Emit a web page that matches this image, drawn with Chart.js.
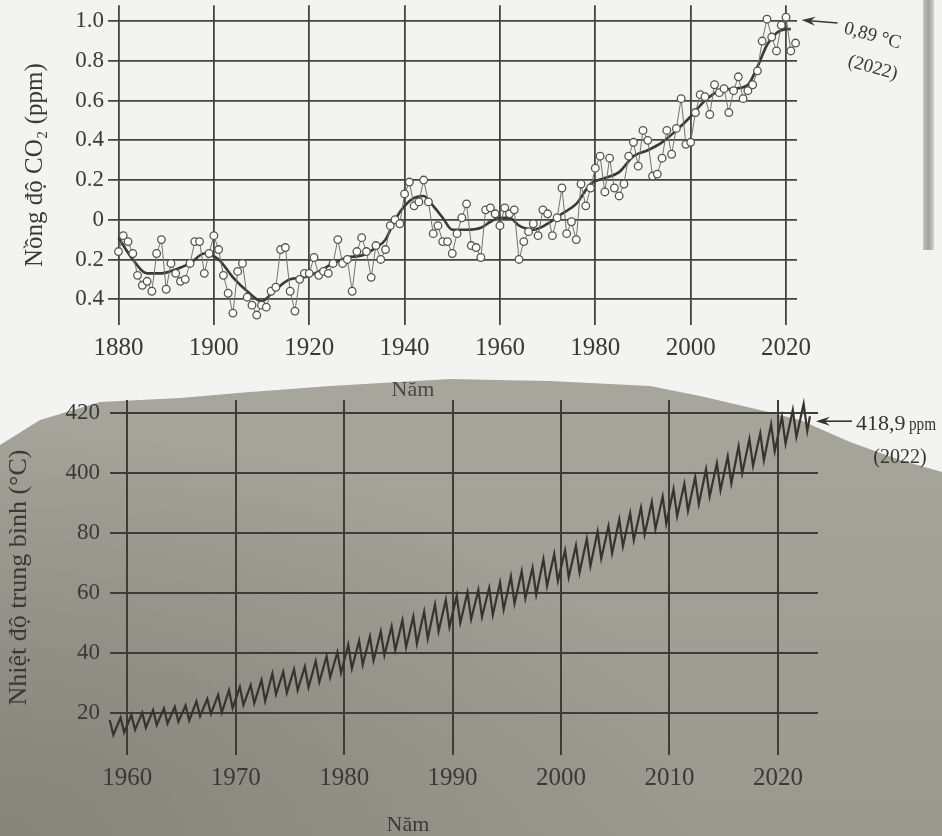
<!DOCTYPE html>
<html>
<head>
<meta charset="utf-8">
<script src="https://cdn.jsdelivr.net/npm/chart.js@4.4.0/dist/chart.umd.min.js"></script>
<style>
  html, body { margin:0; padding:0; width:942px; height:836px; overflow:hidden; background:#f3f3f1; }
  #shade { position:absolute; left:0; top:0; width:942px; height:836px;
    background: radial-gradient(ellipse 700px 420px at 0px 836px, #85847b 0%, rgba(133,132,123,0) 100%),
                linear-gradient(to bottom, #b3b2a9 0%, #a6a59c 50%, #9a998f 100%);
    clip-path: polygon(0px 445px, 40px 420px, 100px 402px, 180px 398px, 250px 392px, 330px 386px, 450px 379px, 550px 381px, 650px 386px, 700px 396px, 760px 410px, 800px 420px, 850px 442px, 900px 460px, 942px 472px, 942px 836px, 0px 836px); }
  #edge { position:absolute; left:923px; top:0; width:11px; height:250px; background:linear-gradient(to right,#c4c3bd,#a3a29b 50%,#d0cfca); }
  canvas { position:absolute; left:0; }
  #c1 { top:0; }
  #c2 { top:390px; }
</style>
</head>
<body>
<div id="shade"></div>
<div id="edge"></div>
<canvas id="c1" width="942" height="400" style="width:942px;height:400px"></canvas>
<canvas id="c2" width="942" height="446" style="width:942px;height:446px"></canvas>
<script>
// ---------- Top chart: annual temperature anomaly ----------
const tempYears = [
  1880,1881,1882,1883,1884,1885,1886,1887,1888,1889,
  1890,1891,1892,1893,1894,1895,1896,1897,1898,1899,
  1900,1901,1902,1903,1904,1905,1906,1907,1908,1909,
  1910,1911,1912,1913,1914,1915,1916,1917,1918,1919,
  1920,1921,1922,1923,1924,1925,1926,1927,1928,1929,
  1930,1931,1932,1933,1934,1935,1936,1937,1938,1939,
  1940,1941,1942,1943,1944,1945,1946,1947,1948,1949,
  1950,1951,1952,1953,1954,1955,1956,1957,1958,1959,
  1960,1961,1962,1963,1964,1965,1966,1967,1968,1969,
  1970,1971,1972,1973,1974,1975,1976,1977,1978,1979,
  1980,1981,1982,1983,1984,1985,1986,1987,1988,1989,
  1990,1991,1992,1993,1994,1995,1996,1997,1998,1999,
  2000,2001,2002,2003,2004,2005,2006,2007,2008,2009,
  2010,2011,2012,2013,2014,2015,2016,2017,2018,2019,
  2020,2021,2022
];
const tempValues = [
  -0.16,-0.08,-0.11,-0.17,-0.28,-0.33,-0.31,-0.36,-0.17,-0.10,
  -0.35,-0.22,-0.27,-0.31,-0.30,-0.22,-0.11,-0.11,-0.27,-0.17,
  -0.08,-0.15,-0.28,-0.37,-0.47,-0.26,-0.22,-0.39,-0.43,-0.48,
  -0.43,-0.44,-0.36,-0.34,-0.15,-0.14,-0.36,-0.46,-0.30,-0.27,
  -0.27,-0.19,-0.28,-0.26,-0.27,-0.22,-0.10,-0.22,-0.20,-0.36,
  -0.16,-0.09,-0.16,-0.29,-0.13,-0.20,-0.15,-0.03,0.00,-0.02,
  0.13,0.19,0.07,0.09,0.20,0.09,-0.07,-0.03,-0.11,-0.11,
  -0.17,-0.07,0.01,0.08,-0.13,-0.14,-0.19,0.05,0.06,0.03,
  -0.03,0.06,0.03,0.05,-0.20,-0.11,-0.06,-0.02,-0.08,0.05,
  0.03,-0.08,0.01,0.16,-0.07,-0.01,-0.10,0.18,0.07,0.16,
  0.26,0.32,0.14,0.31,0.16,0.12,0.18,0.32,0.39,0.27,
  0.45,0.40,0.22,0.23,0.31,0.45,0.33,0.46,0.61,0.38,
  0.39,0.54,0.63,0.62,0.53,0.68,0.64,0.66,0.54,0.65,
  0.72,0.61,0.65,0.68,0.75,0.90,1.01,0.92,0.85,0.98,
  1.02,0.85,0.89
];
// smoothed trend
const smoothYears = [1880,1883,1886,1889,1892,1895,1898,1901,1904,1907,1910,1913,1916,1919,1922,1925,1928,1931,1934,1936,1938,1940,1942,1944,1946,1948,1950,1953,1956,1958,1960,1962,1964,1967,1970,1973,1976,1979,1982,1985,1988,1991,1994,1997,2000,2003,2006,2009,2012,2014,2016,2018,2020,2021];
const smoothValues = [-0.09,-0.20,-0.27,-0.27,-0.25,-0.22,-0.17,-0.20,-0.29,-0.36,-0.41,-0.35,-0.30,-0.29,-0.26,-0.22,-0.19,-0.18,-0.14,-0.10,0.00,0.07,0.11,0.12,0.07,0.01,-0.05,-0.05,-0.04,-0.01,0.01,0.01,-0.03,-0.05,-0.02,0.03,0.08,0.18,0.21,0.24,0.32,0.35,0.39,0.45,0.52,0.60,0.65,0.66,0.68,0.77,0.88,0.94,0.96,0.96];
const tempXTicks = [1880,1900,1920,1940,1960,1980,2000,2020];
const tempYTicks = [-0.4,-0.2,0,0.2,0.4,0.6,0.8,1.0];
const tempYTickLabels = ['0.4','0.2','0','0.2','0.4','0.6','0.8','1.0'];
const tempNote = ['0,89 °C','(2022)'];

// ---------- Bottom chart: CO2 seasonal cycle ----------
const co2Years = [
  1958,1959,1960,1961,1962,1963,1964,1965,1966,1967,
  1968,1969,1970,1971,1972,1973,1974,1975,1976,1977,
  1978,1979,1980,1981,1982,1983,1984,1985,1986,1987,
  1988,1989,1990,1991,1992,1993,1994,1995,1996,1997,
  1998,1999,2000,2001,2002,2003,2004,2005,2006,2007,
  2008,2009,2010,2011,2012,2013,2014,2015,2016,2017,
  2018,2019,2020,2021,2022
];
const co2Peak = [
  317.7,318.5,319.4,320.1,321.0,321.5,322.1,322.5,323.9,324.7,
  326.1,327.6,328.7,329.3,331.0,333.2,333.7,334.6,335.5,337.3,
  338.9,340.3,342.8,344.1,345.5,347.2,348.9,350.9,352.1,353.8,
  356.2,357.7,359.0,360.2,361.0,361.7,363.5,365.5,367.2,368.4,
  371.3,373.0,374.2,375.8,378.0,380.5,382.2,384.5,386.6,388.5,
  390.3,392.1,394.6,396.4,398.6,401.2,403.3,405.5,408.9,411.3,
  413.2,416.2,418.7,421.0,423.0
];
const co2Trough = [
  312.7,313.5,314.4,315.1,316.0,316.5,317.1,317.5,318.9,319.7,
  320.1,321.6,322.7,323.3,324.0,326.2,326.7,327.6,328.5,330.3,
  331.9,333.3,334.8,336.1,337.5,339.2,340.9,341.9,343.1,344.8,
  347.2,348.7,350.0,351.2,352.0,352.7,354.5,356.5,358.2,359.4,
  362.3,364.0,365.2,366.8,369.0,371.5,373.2,375.5,377.6,379.5,
  381.3,383.1,385.6,387.4,389.6,392.2,394.3,396.5,399.9,402.3,
  404.2,407.2,409.7,412.0,414.0
];
const peakMonth = 5, troughMonth = 9;
const co2Last = { month: 12, year: 2022, value: 418.9 };
const co2XTicks = [1960,1970,1980,1990,2000,2010,2020];
const co2YTicks = [320,340,360,380,400,420];
const co2YTickLabels = ['20','40','60','80','400','420'];
const co2Note = ['418,9 ppm','(2022)'];
const xTitle = 'Năm';

// ---------- helpers ----------
const INK = '#3a3934';
const SERIF = '"Liberation Serif", "Times New Roman", serif';

function arrow(ctx, x1, y1, x2, y2, color) {
  ctx.save();
  ctx.strokeStyle = color; ctx.fillStyle = color; ctx.lineWidth = 1.6;
  const a = Math.atan2(y2 - y1, x2 - x1);
  const hl = 14, hw = 4.5;
  ctx.beginPath(); ctx.moveTo(x1, y1); ctx.lineTo(x2 - hl * 0.6 * Math.cos(a), y2 - hl * 0.6 * Math.sin(a)); ctx.stroke();
  ctx.beginPath();
  ctx.moveTo(x2, y2);
  ctx.lineTo(x2 - hl * Math.cos(a) + hw * Math.sin(a), y2 - hl * Math.sin(a) - hw * Math.cos(a));
  ctx.lineTo(x2 - hl * 0.65 * Math.cos(a), y2 - hl * 0.65 * Math.sin(a));
  ctx.lineTo(x2 - hl * Math.cos(a) - hw * Math.sin(a), y2 - hl * Math.sin(a) + hw * Math.cos(a));
  ctx.closePath(); ctx.fill();
  ctx.restore();
}
const noPadY = w => s => { s.width = w; s.paddingTop = 0; s.paddingBottom = 0; };
const noPadX = h => s => { s.height = h; s.paddingLeft = 0; s.paddingRight = 0; };

// ---------- chart 1 ----------
const tempPoints = tempYears.map((y, i) => ({ x: y, y: tempValues[i] }));
const smoothPoints = smoothYears.map((y, i) => ({ x: y, y: smoothValues[i] }));

const topNotes = {
  id: 'topNotes',
  afterDraw(chart) {
    const ctx = chart.ctx;
    const xs = chart.scales.x;
    ctx.save();
    const tipX = xs.getPixelForValue(tempYears[tempYears.length - 1]) + 6;
    arrow(ctx, tipX + 36, 23, tipX, 20, INK);
    ctx.fillStyle = INK;
    ctx.font = '19px ' + SERIF;
    ctx.textBaseline = 'alphabetic';
    ctx.save(); ctx.translate(843, 33); ctx.rotate(0.27); ctx.fillText(tempNote[0], 0, 0); ctx.restore();
    ctx.save(); ctx.translate(847, 66); ctx.rotate(0.27); ctx.fillText(tempNote[1], 0, 0); ctx.restore();
    ctx.font = '22px ' + SERIF;
    ctx.textAlign = 'center';
    ctx.fillStyle = '#4a4942';
    ctx.fillText(xTitle, 413, 396);
    ctx.restore();
  }
};

new Chart(document.getElementById('c1'), {
  type: 'line',
  data: {
    datasets: [
      { data: tempPoints, borderColor: '#74736b', borderWidth: 1, tension: 0,
        pointRadius: 3.8, pointBackgroundColor: '#ffffff', pointBorderColor: '#55544d', pointBorderWidth: 1.3, clip: false },
      { data: smoothPoints, borderColor: '#3a3934', borderWidth: 2.6, tension: 0.4, cubicInterpolationMode: 'monotone',
        pointRadius: 0, clip: false }
    ]
  },
  options: {
    responsive: false, animation: false, devicePixelRatio: 1,
    layout: { padding: { left: 0, right: 145, top: 0, bottom: 0 } },
    plugins: { legend: { display: false }, tooltip: { enabled: false } },
    scales: {
      x: {
        type: 'linear', min: 1877.8, max: 2022.3,
        afterBuildTicks: s => { s.ticks = tempXTicks.map(v => ({ value: v })); },
        afterFit: noPadX(75),
        grid: { color: '#45443e', lineWidth: 1.8, drawTicks: false },
        border: { display: false },
        ticks: { color: INK, padding: 8, maxRotation: 0, font: { family: SERIF, size: 25 }, callback: v => String(v) }
      },
      y: {
        min: -0.53, max: 1.08,
        afterBuildTicks: s => { s.ticks = tempYTicks.map(v => ({ value: v })); },
        afterFit: noPadY(108),
        grid: { color: '#45443e', lineWidth: 1.8, drawTicks: false },
        border: { display: false },
        ticks: { color: INK, padding: 4, font: { family: SERIF, size: 23 },
          callback: (v, i) => tempYTickLabels[i] },
        title: { display: true, text: 'Nồng độ CO₂ (ppm)', color: INK, font: { family: SERIF, size: 25 }, padding: { top: 20, bottom: 0 } }
      }
    }
  },
  plugins: [topNotes]
});

// ---------- chart 2 ----------
const co2Points = [];
co2Years.forEach((yr, i) => {
  co2Points.push({ x: yr + (peakMonth - 0.5) / 12, y: co2Peak[i] });
  co2Points.push({ x: yr + (troughMonth - 0.5) / 12, y: co2Trough[i] });
});
co2Points.push({ x: co2Last.year + (co2Last.month - 0.5) / 12, y: co2Last.value });

const bottomNotes = {
  id: 'bottomNotes',
  afterDraw(chart) {
    const ctx = chart.ctx;
    const xs = chart.scales.x, ys = chart.scales.y;
    ctx.save();
    const tipX = xs.getPixelForValue(co2Points[co2Points.length - 1].x) + 6;
    const tipY = ys.getPixelForValue(co2Last.value) + 5;
    arrow(ctx, tipX + 36, tipY, tipX, tipY, '#34332d');
    ctx.fillStyle = '#34332d';
    ctx.textBaseline = 'alphabetic';
    ctx.font = '22px ' + SERIF;
    const parts = co2Note[0].split(' ');
    const x0 = tipX + 40;
    ctx.fillText(parts[0], x0, tipY + 9);
    const w0 = ctx.measureText(parts[0] + ' ').width;
    ctx.font = '18px ' + SERIF;
    ctx.save(); ctx.translate(x0 + w0 - 2, tipY + 9); ctx.scale(0.85, 1.1); ctx.fillText(parts[1], 0, 0); ctx.restore();
    ctx.font = '20px ' + SERIF;
    ctx.textAlign = 'center';
    ctx.fillText(co2Note[1], 900, tipY + 42);
    ctx.font = '22px ' + SERIF;
    ctx.fillStyle = '#3c3b35';
    ctx.fillText(xTitle, 408, 441);
    ctx.restore();
  }
};

new Chart(document.getElementById('c2'), {
  type: 'line',
  data: {
    datasets: [
      { data: co2Points, borderColor: '#35342e', borderWidth: 2.2, tension: 0, pointRadius: 0, clip: false }
    ]
  },
  options: {
    responsive: false, animation: false, devicePixelRatio: 1,
    layout: { padding: { left: 0, right: 124, top: 10, bottom: 0 } },
    plugins: { legend: { display: false }, tooltip: { enabled: false } },
    scales: {
      x: {
        type: 'linear', min: 1958.4, max: 2023.7,
        afterBuildTicks: s => { s.ticks = co2XTicks.map(v => ({ value: v })); },
        afterFit: noPadX(81),
        grid: { color: '#3d3c35', lineWidth: 2, drawTicks: false },
        border: { display: false },
        ticks: { color: '#3a3933', padding: 8, maxRotation: 0, font: { family: SERIF, size: 25 }, callback: v => String(v) }
      },
      y: {
        min: 306, max: 424.3,
        afterBuildTicks: s => { s.ticks = co2YTicks.map(v => ({ value: v })); },
        afterFit: noPadY(110),
        grid: { color: '#3d3c35', lineWidth: 2, drawTicks: false },
        border: { display: false },
        ticks: { color: '#3a3933', padding: 10, font: { family: SERIF, size: 23 },
          callback: (v, i) => co2YTickLabels[i] },
        title: { display: true, text: 'Nhiệt độ trung bình (°C)', color: '#3a3933', font: { family: SERIF, size: 26 }, padding: { top: 4, bottom: 0 } }
      }
    }
  },
  plugins: [bottomNotes]
});
</script>
</body>
</html>
